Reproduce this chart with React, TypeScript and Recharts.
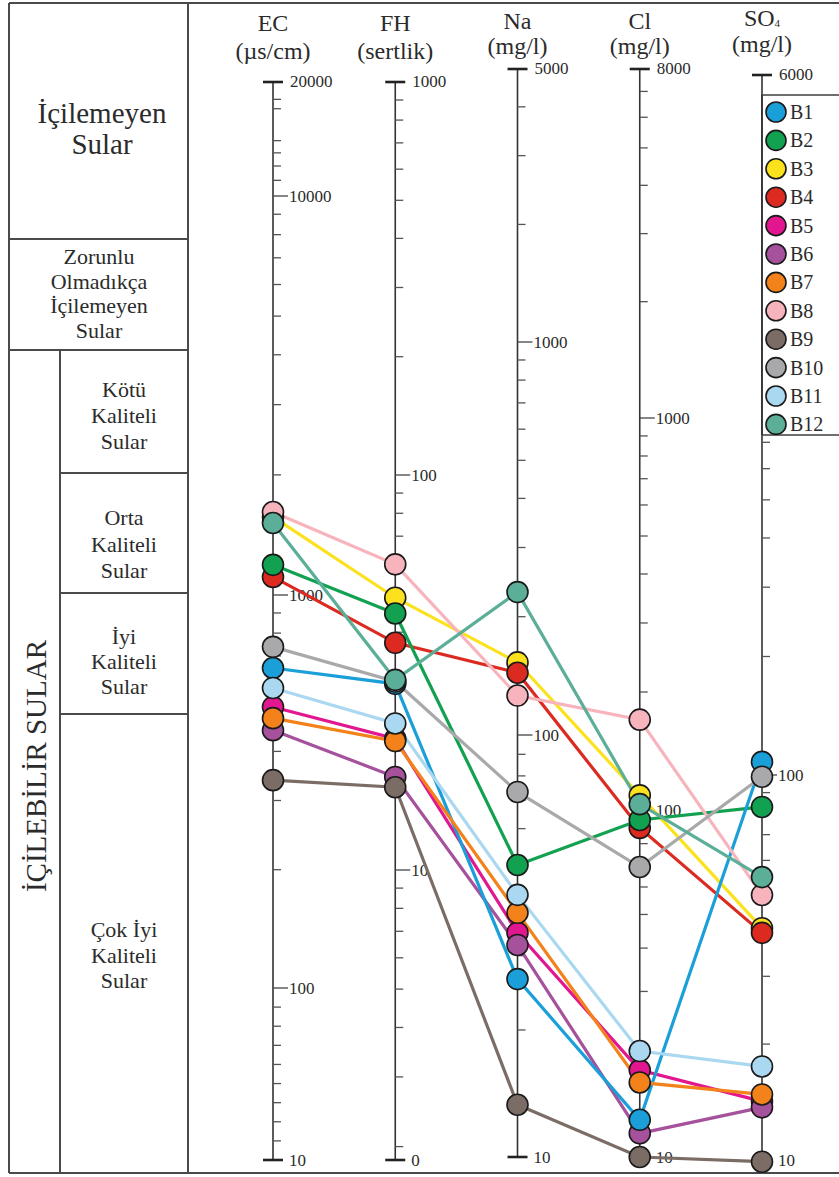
import React from 'react'
import { LineChart, Line, XAxis, YAxis, Customized } from 'recharts'

const parameters = ['EC', 'FH', 'Na', 'Cl', 'SO4']
const units = ['(µs/cm)', '(sertlik)', '(mg/l)', '(mg/l)', '(mg/l)']

const wellNames = ['B1', 'B2', 'B3', 'B4', 'B5', 'B6', 'B7', 'B8', 'B9', 'B10', 'B11', 'B12']
const wellColors = [
  '#1a9fd9', '#12a150', '#fbe21c', '#dc2a20', '#e2168e', '#a5519c',
  '#f4821a', '#f8b4bc', '#7b6d66', '#a9a9ab', '#aad8f1', '#5bae97',
]

// EC, FH, Na, Cl, SO4
const B1 = [652, 29.6, 26.4, 12.8, 108]
const B2 = [1190, 44.6, 49.2, 93.6, 82.6]
const B3 = [1570, 48.9, 153, 109, 40]
const B4 = [1110, 37.6, 144, 88.8, 38.9]
const B5 = [519, 21.5, 34, 17.8, 14.2]
const B6 = [453, 17.2, 31.8, 11.7, 13.7]
const B7 = [486, 21.2, 37.9, 16.4, 14.8]
const B8 = [1614, 59.4, 126, 170, 48.8]
const B9 = [338, 16.2, 13.3, 10, 9.9]
const B10 = [738, 30, 73.3, 68.5, 99]
const B11 = [580, 23.5, 41.8, 20.2, 17.5]
const B12 = [1515, 30.3, 231, 103.5, 54.3]
const wellValues = [B1, B2, B3, B4, B5, B6, B7, B8, B9, B10, B11, B12]

// later wells are painted on top
const drawOrder = ['B3', 'B4', 'B2', 'B5', 'B6', 'B1', 'B7', 'B8', 'B9', 'B10', 'B11', 'B12']

const topLabels = ['20000', '1000', '5000', '8000', '6000']
const bottomLabels = ['10', '0', '10', '10', '10']
const majorTicks = [[10000, 1000, 100], [100, 10], [1000, 100], [1000, 100], [100]]

// the nomogram axes are hand-drawn: each one is calibrated with its own stops
// (value -> vertical position in chart units); lin marks a linear segment
type Stop = { v: number; y: number; lin?: boolean }
const axisStops: Stop[][] = [
  [{ v: 20000, y: 82 }, { v: 10000, y: 196 }, { v: 1000, y: 595 }, { v: 100, y: 988 }, { v: 10, y: 1160, lin: true }],
  [{ v: 1000, y: 82 }, { v: 100, y: 475 }, { v: 10, y: 870 }, { v: 1.85, y: 1160 }],
  [{ v: 5000, y: 69 }, { v: 1000, y: 342 }, { v: 100, y: 735 }, { v: 10, y: 1157 }],
  [{ v: 8000, y: 69 }, { v: 1000, y: 418 }, { v: 100, y: 810 }, { v: 10, y: 1157 }],
  [{ v: 6000, y: 75 }, { v: 100, y: 775 }, { v: 10, y: 1160 }],
]

const steps = (base: number) => [9, 8, 7, 6, 5, 4, 3, 2].map((k) => k * base)
const minorTicks = [
  [18000, 17000, 14000, 13000, 12000, 11000, ...steps(1000), ...steps(100), ...steps(10)],
  [...steps(100), ...steps(10), ...steps(1)],
  [4000, 3000, 2000, ...steps(100), ...steps(10)],
  [7000, 6000, 5000, 4000, 3000, 2000, ...steps(100), ...steps(10)],
  [...steps(100), ...steps(10)],
]

const toY = (stops: Stop[], value: number) => {
  let i = 0
  while (i < stops.length - 2 && value < stops[i + 1].v) i++
  const a = stops[i]
  const b = stops[i + 1]
  const t = b.lin
    ? (a.v - value) / (a.v - b.v)
    : Math.log(a.v / value) / Math.log(a.v / b.v)
  return a.y + t * (b.y - a.y)
}

const W = 839
const H = 1177
const margin = { top: 0, right: 77, bottom: 0, left: 273 }
const axisX = (i: number) =>
  margin.left + (i * (W - margin.left - margin.right)) / (parameters.length - 1)

const rows = parameters.map((p, i) => {
  const row: any = { param: p }
  wellNames.forEach((w, k) => {
    row[w] = toY(axisStops[i], wellValues[k][i])
  })
  return row
})

const FONT = 'Liberation Serif, Times New Roman, serif'
const INK = '#2b2b2b'
const RULE = '#4a4a4a'

// header baselines: name row and unit row
const headerY = [
  [31, 59], [31, 59], [29, 54], [29, 54], [26, 52],
]

const CategoryTable = () => {
  const block = (lines: string[], x: number, y0: number, size: number, gap: number) =>
    lines.map((t, k) => (
      <text key={t + k} x={x} y={y0 + k * gap} textAnchor="middle" fontSize={size} fontFamily={FONT} fill={INK}>
        {t}
      </text>
    ))
  return (
    <g>
      <line x1={9} y1={3} x2={W} y2={3} stroke={RULE} strokeWidth={2} />
      <line x1={9} y1={1173} x2={W} y2={1173} stroke={RULE} strokeWidth={2} />
      <line x1={9} y1={3} x2={9} y2={1173} stroke={RULE} strokeWidth={2} />
      <line x1={188} y1={3} x2={188} y2={1173} stroke={RULE} strokeWidth={2} />
      <line x1={9} y1={239} x2={188} y2={239} stroke={RULE} strokeWidth={2} />
      <line x1={9} y1={350} x2={188} y2={350} stroke={RULE} strokeWidth={2} />
      <line x1={60} y1={350} x2={60} y2={1173} stroke={RULE} strokeWidth={2} />
      <line x1={60} y1={473} x2={188} y2={473} stroke={RULE} strokeWidth={2} />
      <line x1={60} y1={593} x2={188} y2={593} stroke={RULE} strokeWidth={2} />
      <line x1={60} y1={714} x2={188} y2={714} stroke={RULE} strokeWidth={2} />
      {block(['İçilemeyen', 'Sular'], 102, 123, 29, 31)}
      {block(['Zorunlu', 'Olmadıkça', 'İçilemeyen', 'Sular'], 99, 264, 22, 24.6)}
      {block(['Kötü', 'Kaliteli', 'Sular'], 124, 397, 22, 26)}
      {block(['Orta', 'Kaliteli', 'Sular'], 124, 525, 22, 26.5)}
      {block(['İyi', 'Kaliteli', 'Sular'], 124, 644, 22, 25)}
      {block(['Çok İyi', 'Kaliteli', 'Sular'], 124, 937, 22, 25.5)}
      <text
        x={46}
        y={766}
        transform="rotate(-90, 46, 766)"
        textAnchor="middle"
        fontSize={29}
        fontFamily={FONT}
        fill={INK}
      >
        İÇİLEBİLİR SULAR
      </text>
    </g>
  )
}

const ParameterAxes = () => (
  <g>
    {parameters.map((p, i) => {
      const x = axisX(i)
      const stops = axisStops[i]
      const yTop = stops[0].y
      const yBot = stops[stops.length - 1].y
      return (
        <g key={p}>
          <text x={x} y={headerY[i][0]} textAnchor="middle" fontSize={24} fontFamily={FONT} fill={INK}>
            {p === 'SO4' ? (
              <>
                <tspan>SO</tspan>
                <tspan fontSize={11} dy={1}>4</tspan>
              </>
            ) : (
              p
            )}
          </text>
          <text x={x} y={headerY[i][1]} textAnchor="middle" fontSize={24} fontFamily={FONT} fill={INK}>
            {units[i]}
          </text>
          <line x1={x} y1={yTop} x2={x} y2={yBot} stroke="#333" strokeWidth={1.6} />
          <line x1={x - 10} y1={yTop} x2={x + 10} y2={yTop} stroke="#222" strokeWidth={2.6} />
          <line x1={x - 10} y1={yBot} x2={x + 10} y2={yBot} stroke="#222" strokeWidth={2.6} />
          <text x={x + 17} y={yTop + 5} fontSize={17} fontFamily={FONT} fill={INK}>
            {topLabels[i]}
          </text>
          <text x={x + 16} y={yBot + 6} fontSize={17} fontFamily={FONT} fill={INK}>
            {bottomLabels[i]}
          </text>
          {minorTicks[i].map((v) => {
            const y = toY(stops, v)
            return <line key={v} x1={x} y1={y} x2={x + 8} y2={y} stroke="#555" strokeWidth={1.3} />
          })}
          {majorTicks[i].map((v) => {
            const y = toY(stops, v)
            return (
              <g key={'m' + v}>
                <line x1={x} y1={y} x2={x + 15} y2={y} stroke="#444" strokeWidth={1.3} />
                <text x={x + 16} y={y + 6} fontSize={17} fontFamily={FONT} fill={INK}>
                  {v}
                </text>
              </g>
            )
          })}
        </g>
      )
    })}
  </g>
)

const WellLegend = () => {
  const x0 = axisX(parameters.length - 1)
  return (
    <g>
      <rect x={x0} y={95} width={W - x0 + 2} height={340} fill="#fff" stroke={RULE} strokeWidth={1.6} />
      <line x1={x0} y1={95} x2={x0} y2={435} stroke="#333" strokeWidth={1.6} />
      {wellNames.map((w, k) => {
        const cy = 112 + k * 28.4
        return (
          <g key={w}>
            <circle cx={x0 + 14} cy={cy} r={10} fill={wellColors[k]} stroke="#1a1a1a" strokeWidth={1.6} />
            <text x={x0 + 28} y={cy + 7} fontSize={20} fontFamily={FONT} fill={INK}>
              {w}
            </text>
          </g>
        )
      })}
    </g>
  )
}

export default function App() {
  return (
    <div style={{ position: 'absolute', left: 0, top: 0, background: '#fff' }}>
      <LineChart width={W} height={H} data={rows} margin={margin}>
        <Customized component={CategoryTable} />
        <Customized component={ParameterAxes} />
        <XAxis dataKey="param" hide />
        <YAxis type="number" domain={[0, H]} reversed hide allowDataOverflow />
        {drawOrder.map((w) => {
          const color = wellColors[wellNames.indexOf(w)]
          return (
            <Line
              key={w}
              type="linear"
              dataKey={w}
              stroke={color}
              strokeWidth={3.2}
              dot={{ r: 10.5, fill: color, stroke: '#1a1a1a', strokeWidth: 1.6 }}
              activeDot={false}
              isAnimationActive={false}
            />
          )
        })}
        <Customized component={WellLegend} />
      </LineChart>
    </div>
  )
}
